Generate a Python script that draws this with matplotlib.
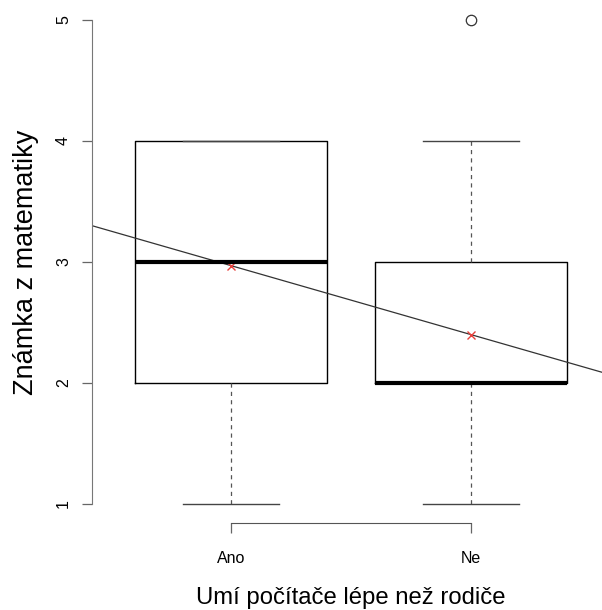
import matplotlib
matplotlib.use('Agg')
import matplotlib.pyplot as plt

# grade summary per group (boxplot five-number stats)
groups = ['Ano', 'Ne']
medians = [3, 2]
q1 = [2, 2]
q3 = [4, 3]
whisker_lo = [1, 1]
whisker_hi = [4, 4]
outliers = [[], [5]]
means = [2.97, 2.40]
y_ticks = [1, 2, 3, 4, 5]

plt.rcParams['font.family'] = ['Liberation Sans', 'DejaVu Sans']
plt.rcParams['lines.scale_dashes'] = False

fig = plt.figure(figsize=(6.02, 6.10), dpi=100)
ax = fig.add_axes([0.1525, 0.142, 0.861, 0.857])

stats = []
for i, name in enumerate(groups):
    stats.append({
        'label': name, 'med': medians[i], 'q1': q1[i], 'q3': q3[i],
        'whislo': whisker_lo[i], 'whishi': whisker_hi[i], 'fliers': outliers[i],
    })

positions = range(1, len(groups) + 1)
ax.bxp(stats, positions=positions, widths=0.8, capwidths=0.4,
       boxprops=dict(color='black', linewidth=1.0),
       medianprops=dict(color='black', linewidth=3.0, solid_capstyle='butt'),
       whiskerprops=dict(color='#555555', linewidth=0.9, linestyle=(0, (3, 3))),
       capprops=dict(color='#444444', linewidth=1.0),
       flierprops=dict(marker='o', markerfacecolor='none', markeredgecolor='#333333',
                       markersize=7.5, markeredgewidth=0.9))

# fitted line through the two group means
ax.axline((1, means[0]), (2, means[1]), color='#333333', linewidth=0.9)
ax.plot(list(positions), means, linestyle='none', marker='x', color='#e8413c',
        markersize=6, markeredgewidth=1.0)

ax.set_xlim(0.42, 2.58)
ax.set_ylim(0.84, 5.16)

for side in ('top', 'right'):
    ax.spines[side].set_visible(False)
ax.spines['left'].set_bounds(1, 5)
ax.spines['bottom'].set_bounds(1, 2)
ax.spines['left'].set_color('#777777')
ax.spines['bottom'].set_color('#555555')

ax.set_yticks(y_ticks)
ax.set_yticklabels([str(t) for t in y_ticks], rotation=90, va='center')
ax.set_xticks(list(positions))
ax.set_xticklabels(groups)
ax.tick_params(axis='y', length=7, width=0.9, color='#666666', pad=8, labelsize=11.5)
ax.tick_params(axis='x', length=7, width=0.9, color='#666666', pad=13, labelsize=11.5)

ax.set_xlabel('Umí počítače lépe než rodiče', fontsize=17.2, labelpad=15)
ax.set_ylabel('Známka z matematiky', fontsize=19.5, labelpad=12)

fig.savefig('out.png', dpi=100)
